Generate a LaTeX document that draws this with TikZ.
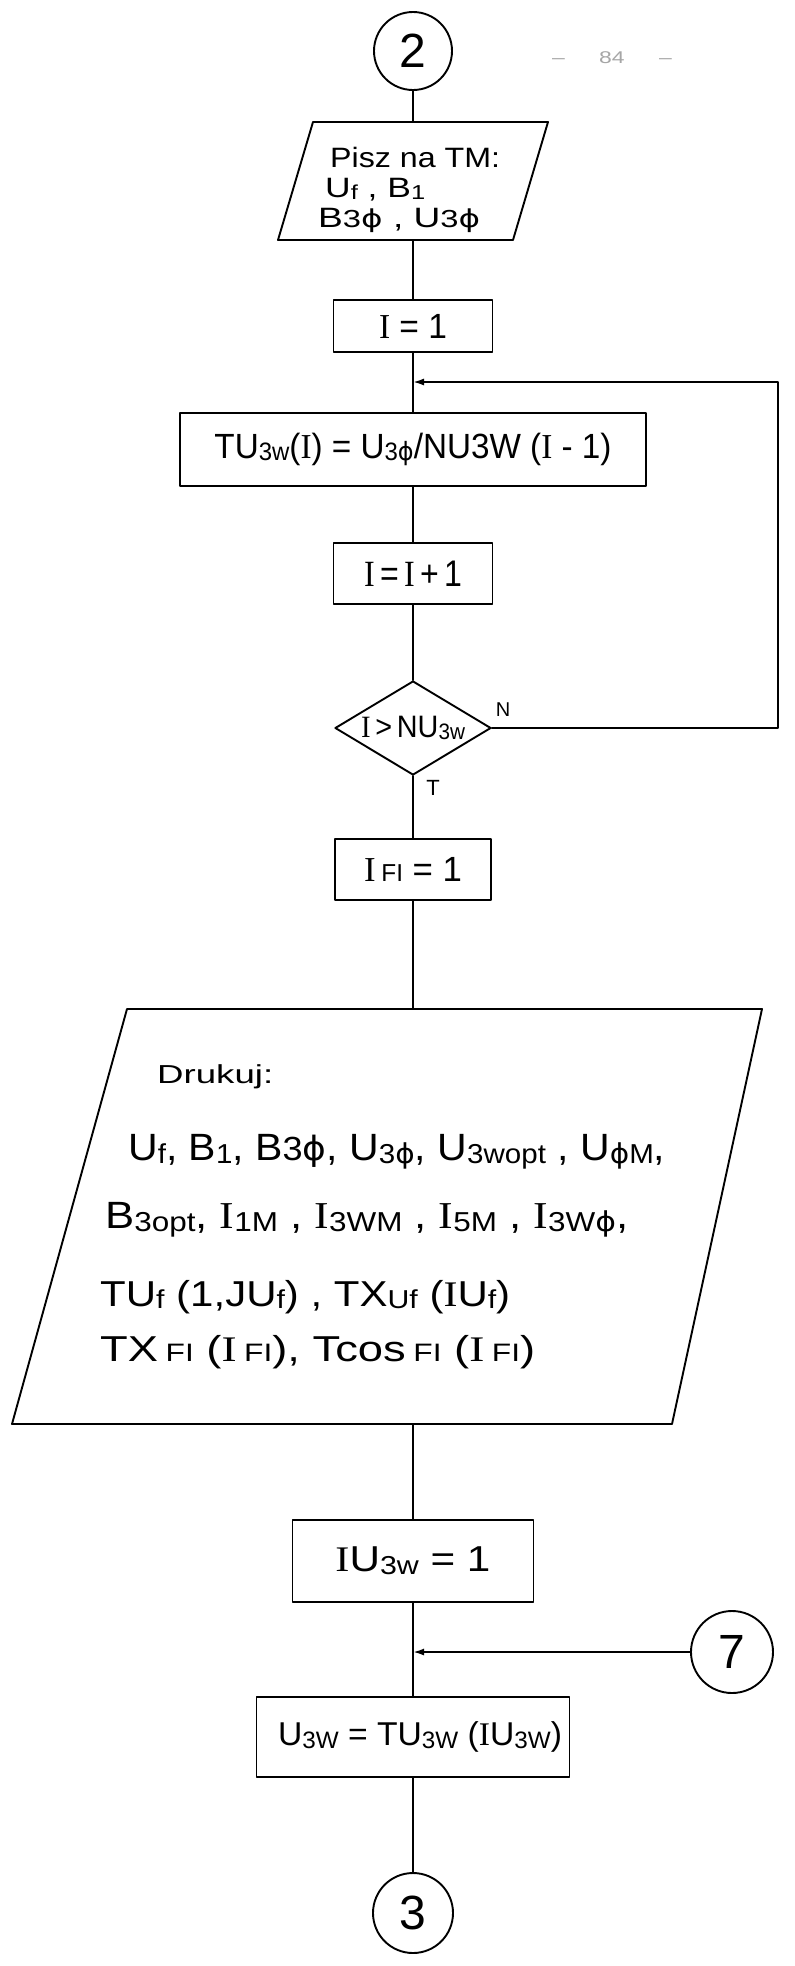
\documentclass[tikz,border=0pt]{standalone}
\usepackage{fontspec}
\setmainfont{Liberation Sans}
\newfontfamily\serf{Liberation Serif}
\newfontfamily\dvs{DejaVu Sans}
\usetikzlibrary{shapes.geometric,arrows.meta}
\newcommand{\Ib}{{\serf I}}
\newcommand{\fii}{{\dvs ϕ}}
\newcommand{\lo}[1]{\raisebox{-0.08em}{\scalebox{0.72}{#1}}}
\newcommand{\mi}[1]{\scalebox{0.88}{#1}}
\newcommand{\sm}[1]{\scalebox{0.7}{#1}}
\newcommand{\fitw}[2]{\resizebox{#1}{\height}{#2}}
\newcommand{\fs}[1]{\fontsize{#1}{#1}\selectfont}
\begin{document}
\begin{tikzpicture}[x=1pt,y=-1pt,
  ln/.style={line width=1.9pt, line cap=round, line join=round},
  box/.style={draw, ln, rectangle, inner sep=0pt},
  conn/.style={draw, ln, circle, inner sep=0pt},
  dec/.style={draw, ln, diamond, inner sep=0pt},
  txt/.style={inner sep=0pt, anchor=base west},
  lbl/.style={inner sep=0pt},
  arr/.style={ln, -{Latex[length=11pt,width=7pt]}},
]
\path[fill=white] (0,0) rectangle (795,1966);
\useasboundingbox (0,0) rectangle (795,1966);

% page number
\node[lbl, font=\fs{17}, text=black!35] (pg) at (612,58) {\fitw{120pt}{–\hspace{1.5em}84\hspace{1.5em}–}};

% connector 2
\node[conn, minimum size=78pt, font=\fs{48}] (c2) at (413,51) {2};

% input parallelogram
\draw[ln] (313,122) -- (548,122) -- (513,240) -- (278,240) -- cycle;
\coordinate (p1t) at (413,122);
\coordinate (p1b) at (413,240);
\node[txt, font=\fs{28}] (p1a) at (330,167) {\fitw{170pt}{Pisz na TM:}};
\node[txt, font=\fs{28}] (p1c) at (325,197) {\fitw{100pt}{U\lo{f} , B\lo{1}}};
\node[txt, font=\fs{28}] (p1d) at (318,227) {\fitw{162pt}{B\mi{3\fii} , U\mi{3\fii}}};

% boxes
\node[box, minimum width=159pt, minimum height=52pt, font=\fs{35}] (b1) at (413,326) {\fitw{68pt}{\Ib{} = 1}\hspace{18pt}};
\coordinate (j1) at (413,382);
\node[box, minimum width=466pt, minimum height=73pt, font=\fs{35}] (b2) at (413,449.5) {\fitw{397pt}{TU\lo{3w}(\Ib) = U\lo{3\fii}/NU3W (\Ib{} - 1)}\hspace{29pt}};
\node[box, minimum width=159pt, minimum height=61pt, font=\fs{37}] (b3) at (413,573.5) {\fitw{98pt}{\Ib\,=\,\Ib\,+\,1}};
\node[dec, minimum width=156pt, minimum height=94pt, aspect=1.66, font=\fs{31}] (d1) at (413,728) {\fitw{104pt}{\Ib\,>\,NU\lo{3w}}};
\node[lbl, font=\fs{20}] (lN) at (503,710) {N};
\node[lbl, font=\fs{22}] (lT) at (433,788) {T};
\coordinate (lp) at (778,382);
\node[box, minimum width=156pt, minimum height=61pt, font=\fs{35}] (b4) at (413,869.5) {\fitw{98pt}{\Ib\,\sm{FI} = 1}};

% output parallelogram
\draw[ln] (127,1009) -- (762,1009) -- (672,1424) -- (12,1424) -- cycle;
\coordinate (p2t) at (413,1009);
\coordinate (p2b) at (413,1424);
\node[txt, font=\fs{26}] (dk) at (157,1083) {\fitw{116pt}{Drukuj:}};
\node[txt, font=\fs{38}] (L1) at (128,1160) {\fitw{537pt}{U\lo{f}, B\lo{1}, B\mi{3\fii}, U\lo{3\fii}, U\lo{3wopt} , U\lo{\fii M},}};
\node[txt, font=\fs{38}] (L2) at (105,1228) {\fitw{523pt}{B\lo{3opt}, \Ib\lo{1M} , \Ib\lo{3WM} , \Ib\lo{5M} , \Ib\lo{3W\fii},}};
\node[txt, font=\fs{36}] (L3) at (100,1306) {\fitw{410pt}{TU\lo{f} (1,JU\lo{f}) , TX\lo{Uf} (\Ib U\lo{f})}};
\node[txt, font=\fs{36}] (L4) at (100,1361) {\fitw{435pt}{TX\,\sm{FI} (\Ib\,\sm{FI}), Tcos\,\sm{FI} (\Ib\,\sm{FI})}};

% lower part
\node[box, minimum width=241pt, minimum height=82pt, font=\fs{36}] (b5) at (413,1561) {\fitw{155pt}{\Ib U\lo{3w} = 1}\hspace{16pt}};
\coordinate (j2) at (413,1652);
\node[conn, minimum size=82pt, font=\fs{48}] (c7) at (732,1652) {7};
\node[box, minimum width=313pt, minimum height=80pt, font=\fs{33}] (b6) at (413,1737) {\hspace{14pt}\fitw{284pt}{U\lo{3W} = TU\lo{3W} (\Ib U\lo{3W})}};
\node[conn, minimum size=80pt, font=\fs{48}] (c3) at (413,1913) {3};

% connectors
\draw[ln] (c2) -- (p1t);
\draw[ln] (p1b) -- (b1);
\draw[ln] (b1) -- (b2);
\draw[ln] (b2) -- (b3);
\draw[ln] (b3) -- (d1);
\draw[ln] (d1) -- (b4);
\draw[arr] (d1.east) -| (lp) -- (j1);
\draw[ln] (b4) -- (p2t);
\draw[ln] (p2b) -- (b5);
\draw[ln] (b5) -- (b6);
\draw[arr] (c7) -- (j2);
\draw[ln] (b6) -- (c3);
\end{tikzpicture}
\end{document}
